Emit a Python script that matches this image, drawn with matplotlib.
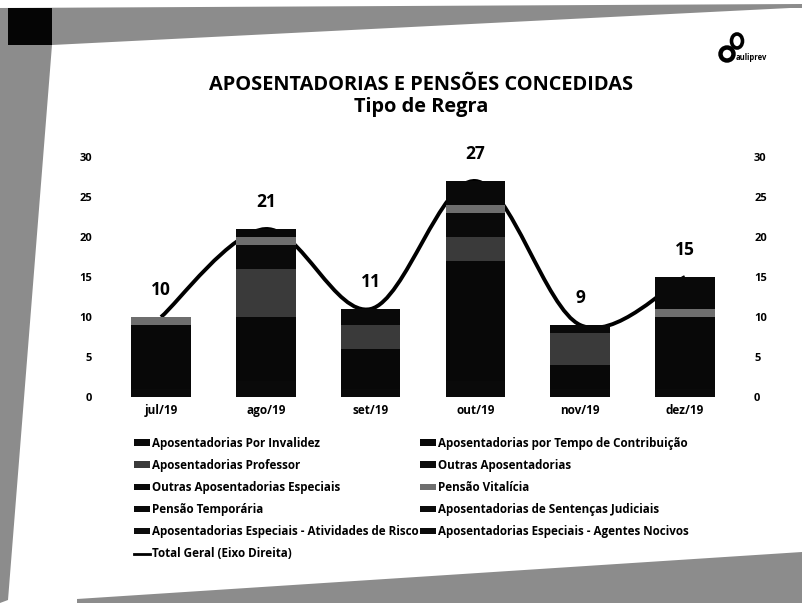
import numpy as np
import matplotlib
matplotlib.use("Agg")
import matplotlib.pyplot as plt
from matplotlib.path import Path
from matplotlib.patches import PathPatch, Polygon, Ellipse
from matplotlib.lines import Line2D

plt.rcParams['font.family'] = ['Open Sans', 'DejaVu Sans']

# data
months = ["jul/19", "ago/19", "set/19", "out/19", "nov/19", "dez/19"]
series_names = [
    "Aposentadorias Por Invalidez",
    "Aposentadorias por Tempo de Contribuição",
    "Aposentadorias Professor",
    "Outras Aposentadorias",
    "Outras Aposentadorias Especiais",
    "Pensão Vitalícia",
    "Pensão Temporária",
    "Aposentadorias de Sentenças Judiciais",
    "Aposentadorias Especiais - Atividades de Risco",
    "Aposentadorias Especiais - Agentes Nocivos",
]
invalidez = [1, 2, 1, 2, 1, 1]
tempo_contrib = [8, 8, 5, 15, 3, 9]
professor = [0, 6, 3, 3, 4, 0]
outras_apos = [0, 0, 0, 0, 0, 0]
outras_especiais = [0, 3, 0, 3, 0, 0]
pensao_vitalicia = [1, 1, 0, 1, 0, 1]
pensao_temporaria = [0, 1, 2, 3, 1, 4]
sentencas = [0, 0, 0, 0, 0, 0]
ativ_risco = [0, 0, 0, 0, 0, 0]
agentes_nocivos = [0, 0, 0, 0, 0, 0]
total_geral = [10, 21, 11, 27, 9, 15]

series_values = [invalidez, tempo_contrib, professor, outras_apos, outras_especiais,
                 pensao_vitalicia, pensao_temporaria, sentencas, ativ_risco, agentes_nocivos]
# scan is grayscale: mostly near-black fills, a couple of lighter dithered ones
colors = ["#0a0a0a", "#080808", "#3a3a3a", "#0c0c0c", "#0a0a0a",
          "#6e6e6e", "#090909", "#0c0c0c", "#0d0d0d", "#0b0b0b"]

W, H = 802, 603
fig = plt.figure(figsize=(W / 100, H / 100), dpi=100)
fig.patch.set_facecolor("white")

def px(points):
    return [(x / W, 1 - y / H) for x, y in points]

# scanner borders
gray = "#8c8c8c"
fig.patches.append(Polygon(px([(0, 8), (802, 4), (802, 8), (790, 8), (52, 45), (0, 45)]),
                           closed=True, transform=fig.transFigure, facecolor=gray, edgecolor="none"))
fig.patches.append(Polygon(px([(0, 45), (52, 45), (8, 600), (0, 603)]),
                           closed=True, transform=fig.transFigure, facecolor=gray, edgecolor="none"))
fig.patches.append(Polygon(px([(77, 603), (77, 599), (802, 552), (802, 603)]),
                           closed=True, transform=fig.transFigure, facecolor=gray, edgecolor="none"))
fig.patches.append(Polygon(px([(8, 8), (52, 8), (52, 45), (8, 45)]),
                           closed=True, transform=fig.transFigure, facecolor="#050505", edgecolor="none"))

ax = fig.add_axes([108.6 / W, 1 - 397 / H, 628.8 / W, 240 / H])
x = np.arange(len(months))

# Total line, smoothed like Excel, drawn behind the columns
pts = np.column_stack([x, total_geral]).astype(float)
ext = np.vstack([pts[0], pts, pts[-1]])
verts = [tuple(pts[0])]
codes = [Path.MOVETO]
for i in range(len(pts) - 1):
    p0, p1, p2, p3 = ext[i], ext[i + 1], ext[i + 2], ext[i + 3]
    c1 = p1 + (p2 - p0) / 6
    c2 = p2 - (p3 - p1) / 6
    verts += [tuple(c1), tuple(c2), tuple(p2)]
    codes += [Path.CURVE4] * 3
ax.add_patch(PathPatch(Path(verts, codes), facecolor="none", edgecolor="black",
                       lw=2.8, zorder=1))

bottom = np.zeros(len(months))
bar_handles = []
for name, vals, c in zip(series_names, series_values, colors):
    b = ax.bar(x, vals, width=0.57, bottom=bottom, color=c, label=name, zorder=2)
    bar_handles.append(b)
    bottom += np.array(vals)

for xi, t in zip(x, total_geral):
    ax.annotate(str(t), (xi, t), xytext=(0, 13), textcoords="offset points",
                ha="center", va="bottom", fontsize=12.5, fontweight="bold")

ax.axhline(0, color="#bdbdbd", lw=0.6, ls=(0, (1, 4)), zorder=0)
ax.set_xlim(-0.5, len(months) - 0.5)
ax.set_ylim(0, 30)
ax.set_yticks([0, 5, 10, 15, 20, 25, 30])
ax.set_xticks(x)
ax.set_xticklabels(months, fontsize=8.5, fontweight="bold")
for s in ax.spines.values():
    s.set_visible(False)
ax.tick_params(axis="both", length=0)
ax.tick_params(axis="y", pad=12, labelsize=8)
ax.tick_params(axis="x", pad=5)
for lbl in ax.get_yticklabels():
    lbl.set_fontweight("bold")

ax2 = ax.twinx()
ax2.set_ylim(0, 30)
ax2.set_yticks([0, 5, 10, 15, 20, 25, 30])
for s in ax2.spines.values():
    s.set_visible(False)
ax2.tick_params(axis="y", length=0, pad=12, labelsize=8)
for lbl in ax2.get_yticklabels():
    lbl.set_fontweight("bold")

fig.text(421 / W, 1 - 85 / H, "APOSENTADORIAS E PENSÕES CONCEDIDAS", ha="center", va="center",
         fontsize=14.4, fontweight="bold")
fig.text(421 / W, 1 - 107 / H, "Tipo de Regra", ha="center", va="center",
         fontsize=14.4, fontweight="bold")

# logo
fig.patches.append(Ellipse((727 / W, 1 - 54 / H), 13 / W, 13 / H, transform=fig.transFigure,
                           facecolor="none", edgecolor="black", lw=3.2))
fig.patches.append(Ellipse((737 / W, 1 - 41 / H), 11 / W, 14 / H, transform=fig.transFigure,
                           facecolor="none", edgecolor="black", lw=2.6))
fig.text(736 / W, 1 - 58 / H, "auliprev", fontsize=5.5, fontweight="bold", va="center")

# legend, Excel-style row-major order in two columns
line_handle = Line2D([0], [0], color="black", lw=2)
handles = [h for h in bar_handles] + [line_handle]
labels = series_names + ["Total Geral (Eixo Direita)"]
order = [0, 2, 4, 6, 8, 10, 1, 3, 5, 7, 9]
leg = fig.legend([handles[i] for i in order], [labels[i] for i in order],
                 loc="upper left", bbox_to_anchor=(128 / W, 1 - 431 / H), ncol=2,
                 frameon=False, prop={"size": 8.4, "weight": "bold"},
                 handlelength=1.4, handleheight=0.5, handletextpad=0.15,
                 columnspacing=0.1, labelspacing=0.78, borderpad=0)

fig.savefig("out.png", dpi=100)
